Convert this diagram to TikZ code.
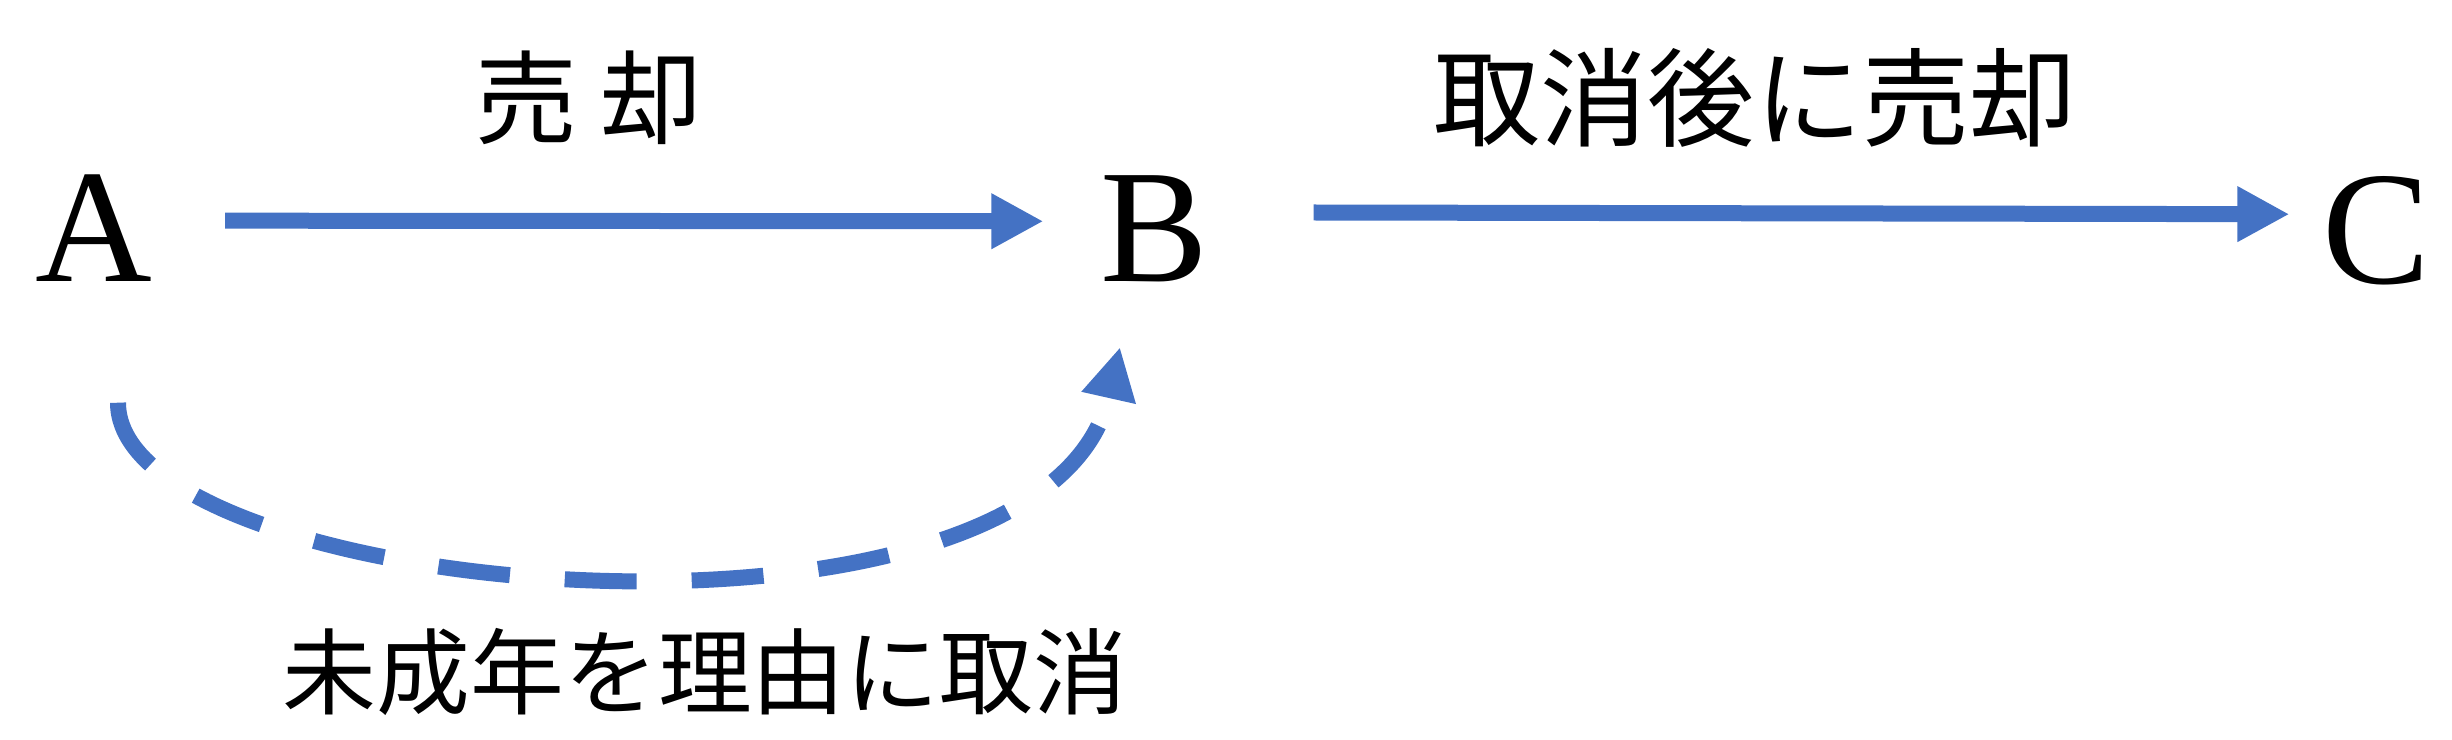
\documentclass[tikz,border=0pt]{standalone}
\usepackage{fontspec}
\setmainfont{Liberation Serif}
\newfontfamily\jpfont{Noto Sans CJK JP}
\usetikzlibrary{arrows.meta}
\definecolor{arrowblue}{HTML}{4472C4}
\begin{document}
\begin{tikzpicture}[
    letter/.style={inner sep=0pt,anchor=base,font=\fontsize{46}{50}\selectfont},
    label/.style={inner sep=0pt,font=\jpfont\fontsize{#1}{#1}\selectfont},
    arr/.style={draw=arrowblue,line width=0.16cm,-{Triangle[length=0.52cm,width=0.52cm]}},
  ]
      \useasboundingbox (0,0) rectangle (24.52,-7.39);
      \node[letter] (A) at (0.94,-2.81){A};
      \node[letter] (B) at (11.54,-2.81){B};
      \node[letter] (C) at (23.76,-2.83){C};
      \node[label=29] (sale) at (5.89,-0.98){売 却};
      \node[label=30.5] (resale) at (17.55,-0.98){取消後に売却};
      \node[label=26.7] (cancel) at (7.05,-6.72){未成年を理由に取消};
      \coordinate (Aunder) at ([xshift=0.24cm,yshift=-1.21cm]A.south);
      \coordinate (Bunder) at ([xshift=-0.34cm,yshift=-0.65cm]B.south);

      \draw[arr,shorten <=0.72cm,shorten >=0.56cm] ([yshift=0.07cm]A.east) -- ([yshift=0.07cm]B.west);
      \draw[arr,shorten <=1.05cm,shorten >=0.32cm] ([yshift=0.16cm]B.east) -- ([yshift=0.16cm]C.west);
      \draw[arr,dash pattern=on 0.72cm off 0.55cm] (Aunder) .. controls +(0,-1.98) and +(-0.75,-3.34) .. (Bunder);
\end{tikzpicture}
\end{document}
